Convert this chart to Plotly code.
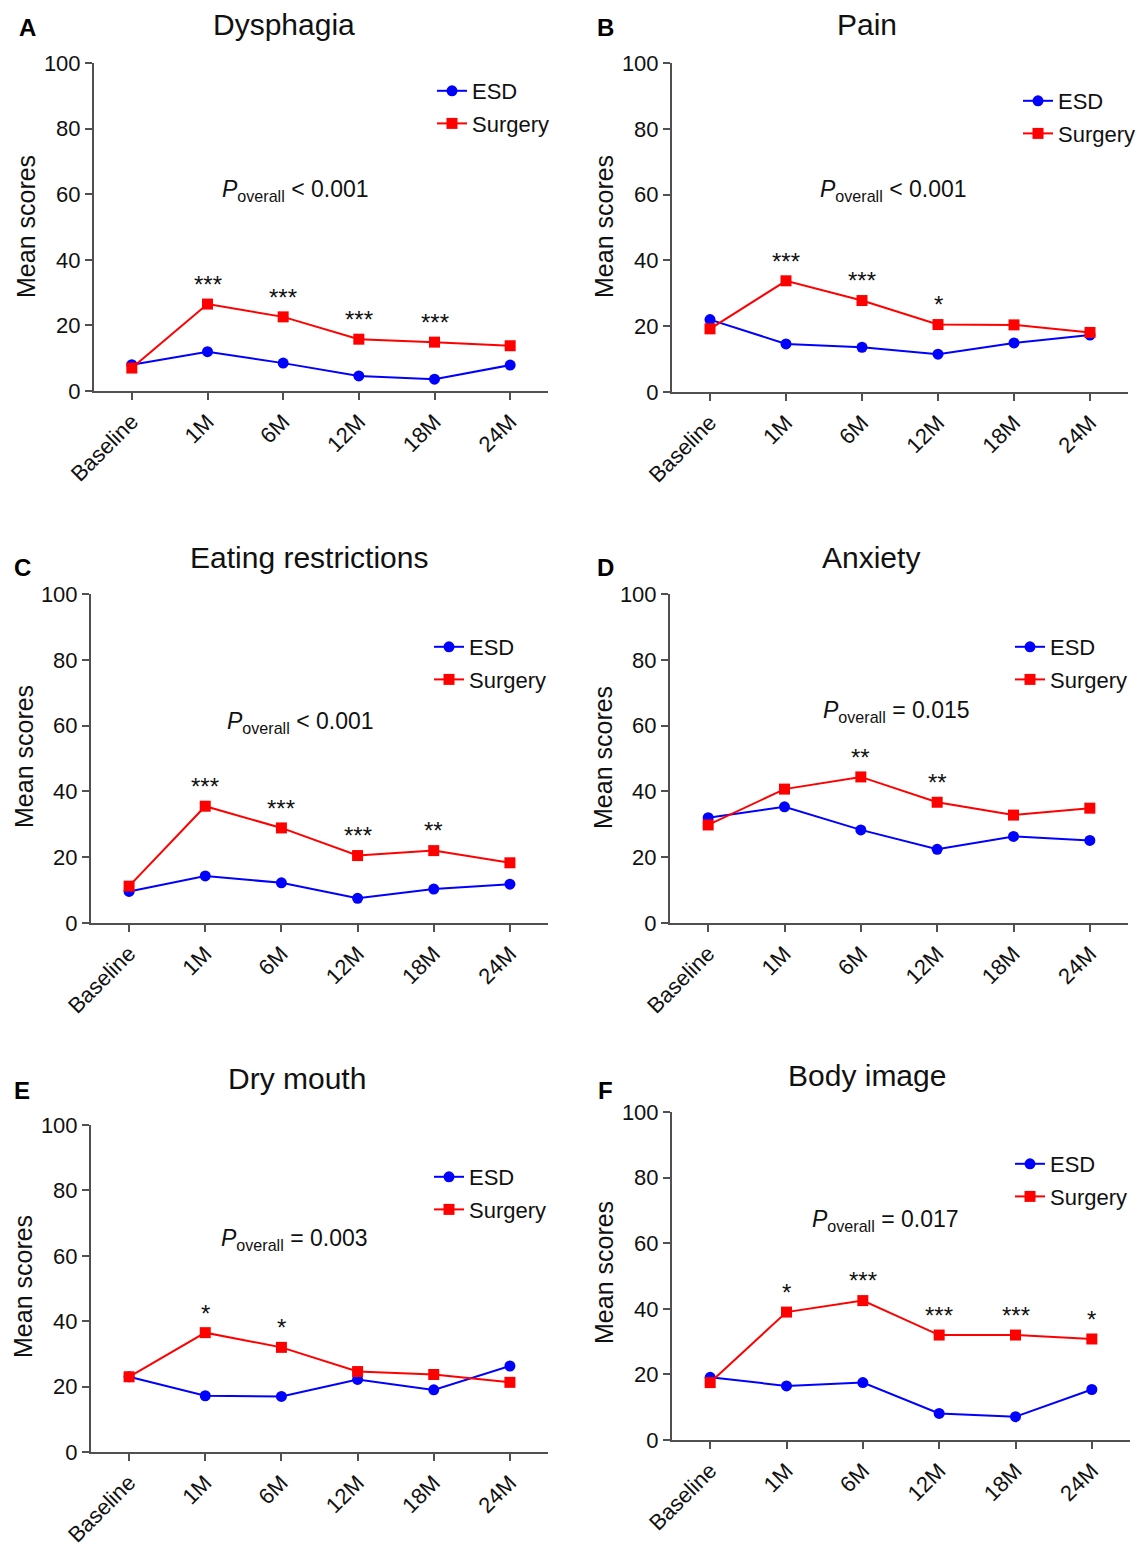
import plotly.graph_objects as go

# ---------------- data ----------------
timepoints = ["Baseline", "1M", "6M", "12M", "18M", "24M"]
y_ticks = [0, 20, 40, 60, 80, 100]

panel_letters = ["A", "B", "C", "D", "E", "F"]
panel_titles = ["Dysphagia", "Pain", "Eating restrictions", "Anxiety", "Dry mouth", "Body image"]
p_texts = ["&lt; 0.001", "&lt; 0.001", "&lt; 0.001", "= 0.015", "= 0.003", "= 0.017"]

esd_dysphagia = [8.0, 12.0, 8.5, 4.6, 3.6, 7.9]
surgery_dysphagia = [7.0, 26.5, 22.6, 15.8, 14.9, 13.8]
stars_dysphagia = ["", "***", "***", "***", "***", ""]

esd_pain = [22.0, 14.6, 13.6, 11.5, 14.9, 17.3]
surgery_pain = [19.2, 33.8, 27.8, 20.5, 20.4, 18.1]
stars_pain = ["", "***", "***", "*", "", ""]

esd_eating = [9.6, 14.3, 12.2, 7.5, 10.3, 11.8]
surgery_eating = [11.2, 35.5, 28.9, 20.5, 22.0, 18.3]
stars_eating = ["", "***", "***", "***", "**", ""]

esd_anxiety = [32.0, 35.3, 28.3, 22.4, 26.3, 25.1]
surgery_anxiety = [29.8, 40.7, 44.4, 36.7, 32.8, 34.9]
stars_anxiety = ["", "", "**", "**", "", ""]

esd_drymouth = [23.0, 17.2, 17.0, 22.2, 19.0, 26.3]
surgery_drymouth = [23.0, 36.5, 32.0, 24.6, 23.7, 21.3]
stars_drymouth = ["", "*", "*", "", "", ""]

esd_bodyimage = [19.1, 16.5, 17.5, 8.1, 7.1, 15.4]
surgery_bodyimage = [17.5, 39.0, 42.5, 32.0, 32.0, 30.8]
stars_bodyimage = ["", "*", "***", "***", "***", "*"]

esd_series = [esd_dysphagia, esd_pain, esd_eating, esd_anxiety, esd_drymouth, esd_bodyimage]
surgery_series = [surgery_dysphagia, surgery_pain, surgery_eating, surgery_anxiety,
                  surgery_drymouth, surgery_bodyimage]
star_series = [stars_dysphagia, stars_pain, stars_eating, stars_anxiety, stars_drymouth, stars_bodyimage]

# ---------------- layout (pixel geometry, in window pixels) ----------------
OFF = 8                      # default page body margin
W, H = 1146 - OFF, 1550 - OFF  # figure size so that it fits the window
FONT = "Liberation Sans, Arial, sans-serif"
BLUE = "#0000FF"
RED = "#FF0000"
AXIS = "#505050"

# x0, x1 (axis extent), y_zero, y_hundred
axes_px = [
    (94, 548, 391, 63),
    (672, 1128, 392, 63),
    (91, 548, 923, 594),
    (670, 1128, 923, 594),
    (91, 548, 1452, 1125),
    (672, 1130, 1440, 1112),
]
title_px = [(284, 25), (867, 25), (309, 557), (871, 557), (297, 1078), (867, 1075)]
letter_px = [(27, 28), (605, 28), (22, 567), (605, 567), (22, 1090), (605, 1090)]
ytitle_px = [(26, 227), (604, 227), (24, 757), (603, 757), (23, 1287), (604, 1273)]
p_px = [(295, 190), (893, 190), (300, 722), (896, 712), (294, 1239), (885, 1220)]
legend_px = [(432, 70), (1018, 80), (429, 626), (1010, 626), (429, 1156), (1010, 1143)]


def px_x(x):
    return (x - OFF) / W


def px_y(y):
    return 1 - (y - OFF) / H


fig = go.Figure()
annotations = []
layout_extra = {}

for i in range(6):
    n = i + 1
    xa = "x" if n == 1 else f"x{n}"
    ya = "y" if n == 1 else f"y{n}"
    leg = "legend" if n == 1 else f"legend{n}"

    fig.add_trace(go.Scatter(
        x=timepoints, y=esd_series[i], name="ESD", mode="lines+markers",
        line=dict(color=BLUE, width=2), marker=dict(symbol="circle", size=11, color=BLUE),
        xaxis=xa, yaxis=ya, legend=leg, legendgroup=f"esd{n}", cliponaxis=False,
    ))
    fig.add_trace(go.Scatter(
        x=timepoints, y=surgery_series[i], name="Surgery", mode="lines+markers",
        line=dict(color=RED, width=2), marker=dict(symbol="square", size=11, color=RED),
        xaxis=xa, yaxis=ya, legend=leg, legendgroup=f"surg{n}", cliponaxis=False,
    ))

    x0, x1, yz, yh = axes_px[i]
    axis_common = dict(
        showline=True, linecolor=AXIS, linewidth=2, ticks="outside", ticklen=7,
        tickwidth=2, tickcolor=AXIS, showgrid=False, zeroline=False, automargin=False,
    )
    layout_extra[("xaxis" if n == 1 else f"xaxis{n}")] = dict(
        domain=[px_x(x0), px_x(x1)], anchor=ya, type="category",
        categoryorder="array", categoryarray=timepoints,
        range=[-0.5, 5.5], tickangle=-45, ticklabelstandoff=0,
        tickfont=dict(family=FONT, size=22, color="#111111"), **axis_common,
    )
    layout_extra[("yaxis" if n == 1 else f"yaxis{n}")] = dict(
        domain=[px_y(yz), px_y(yh)], anchor=xa, range=[0, 100],
        tickvals=y_ticks, tickfont=dict(family=FONT, size=22, color="#111111"), **axis_common,
    )

    lx, ly = legend_px[i]
    layout_extra[leg] = dict(
        x=px_x(lx), y=px_y(ly), xanchor="left", yanchor="top",
        font=dict(family=FONT, size=22, color="#111111"),
        bgcolor="rgba(0,0,0,0)", tracegroupgap=1, itemwidth=30,
    )

    tx, ty = title_px[i]
    annotations.append(dict(
        x=px_x(tx), y=px_y(ty), xref="paper", yref="paper", text=panel_titles[i],
        showarrow=False, font=dict(family=FONT, size=30, color="#111111"),
        xanchor="center", yanchor="middle",
    ))
    lx2, ly2 = letter_px[i]
    annotations.append(dict(
        x=px_x(lx2), y=px_y(ly2), xref="paper", yref="paper", text=f"<b>{panel_letters[i]}</b>",
        showarrow=False, font=dict(family=FONT, size=24, color="#000000"),
        xanchor="center", yanchor="middle",
    ))
    yx, yy = ytitle_px[i]
    annotations.append(dict(
        x=px_x(yx), y=px_y(yy), xref="paper", yref="paper", text="Mean scores",
        showarrow=False, textangle=-90, font=dict(family=FONT, size=25, color="#111111"),
        xanchor="center", yanchor="middle",
    ))
    px_, py_ = p_px[i]
    annotations.append(dict(
        x=px_x(px_), y=px_y(py_), xref="paper", yref="paper",
        text=f"<i>P</i><sub>overall</sub> {p_texts[i]}",
        showarrow=False, font=dict(family=FONT, size=23, color="#111111"),
        xanchor="center", yanchor="middle",
    ))
    for cat, val, s in zip(timepoints, surgery_series[i], star_series[i]):
        if s:
            annotations.append(dict(
                x=cat, y=val + 6, xref=xa, yref=ya, text=s, showarrow=False,
                font=dict(family=FONT, size=24, color="#111111"),
                xanchor="center", yanchor="middle",
            ))

fig.update_layout(
    width=W, height=H, margin=dict(l=0, r=0, t=0, b=0, autoexpand=False),
    paper_bgcolor="white", plot_bgcolor="white",
    showlegend=True, annotations=annotations, **layout_extra,
)

fig.write_html("out.html")
